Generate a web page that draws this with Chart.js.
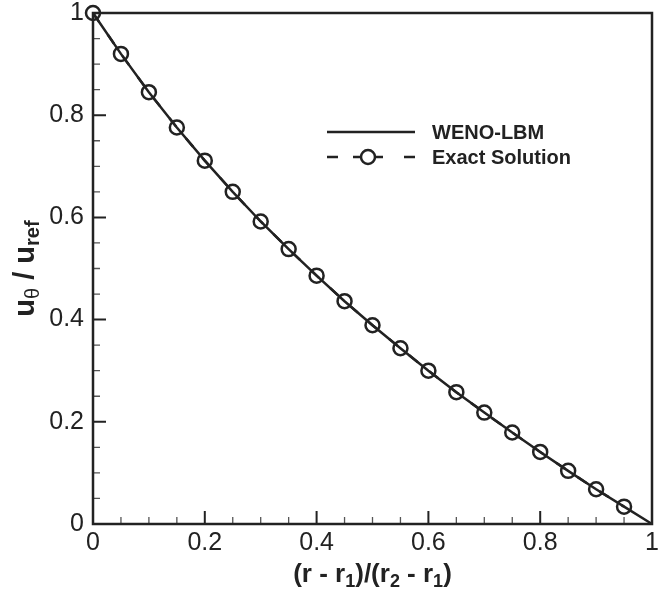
<!DOCTYPE html>
<html>
<head>
<meta charset="utf-8">
<script src="https://cdn.jsdelivr.net/npm/chart.js@4"></script>
<style>
  html, body { margin: 0; padding: 0; background: #fff; }
  #wrap { width: 665px; height: 597px; }
</style>
</head>
<body>
<div id="wrap"><canvas id="chart" width="665" height="597"></canvas></div>
<script>
// normalised radius (r - r1)/(r2 - r1)
const xValues = [0, 0.05, 0.1, 0.15, 0.2, 0.25, 0.3, 0.35, 0.4, 0.45, 0.5,
                 0.55, 0.6, 0.65, 0.7, 0.75, 0.8, 0.85, 0.9, 0.95, 1];
// WENO-LBM solid line
const wenoValues = [1.000, 0.920, 0.845, 0.776, 0.711, 0.650, 0.592, 0.538, 0.486, 0.436, 0.389,
                    0.344, 0.300, 0.258, 0.218, 0.179, 0.141, 0.104, 0.068, 0.034, 0.000];
// exact solution, circles (no marker at 1)
const exactX = [0, 0.05, 0.1, 0.15, 0.2, 0.25, 0.3, 0.35, 0.4, 0.45,
                0.5, 0.55, 0.6, 0.65, 0.7, 0.75, 0.8, 0.85, 0.9, 0.95];
const exactValues = [1.000, 0.920, 0.845, 0.776, 0.711, 0.650, 0.592, 0.538, 0.486, 0.436,
                     0.389, 0.344, 0.300, 0.258, 0.218, 0.179, 0.141, 0.104, 0.068, 0.034];
const tickLabels = ['0', '0.2', '0.4', '0.6', '0.8', '1'];
const legendLabels = ['WENO-LBM', 'Exact Solution'];

const ink = '#222';
const font = '"Liberation Sans", Arial, Helvetica, sans-serif';

// draws centred text with subscript parts
function richText(ctx, parts, x, y, size) {
    const subSize = Math.round(size * 0.68);
    let total = 0;
    parts.forEach(p => {
        ctx.font = (p.light ? '' : 'bold ') + (p.sub ? subSize : size) + 'px ' + font;
        p.w = ctx.measureText(p.t).width;
        total += p.w;
    });
    let cx = x - total / 2;
    parts.forEach(p => {
        ctx.font = (p.light ? '' : 'bold ') + (p.sub ? subSize : size) + 'px ' + font;
        ctx.fillText(p.t, cx, p.sub ? y + 5 : y);
        cx += p.w;
    });
}

function labelFor(value) {
    const i = Math.round(value * 5);
    return Math.abs(value * 5 - i) < 1e-6 ? tickLabels[i] : '';
}

const framePlugin = {
    id: 'frame',
    afterDraw(chart) {
        const ctx = chart.ctx;
        const a = chart.chartArea;
        const xs = chart.scales.x, ys = chart.scales.y;
        ctx.save();
        ctx.strokeStyle = ink;
        ctx.fillStyle = ink;

        // inward ticks, left and bottom only
        for (let i = 0; i <= 20; i++) {
            const v = i / 20;
            const major = i % 4 === 0;
            const len = major ? 13 : 7;
            ctx.lineWidth = major ? 2 : 1.3;
            ctx.strokeStyle = major ? ink : '#555';
            const py = ys.getPixelForValue(v);
            const px = xs.getPixelForValue(v);
            ctx.beginPath();
            ctx.moveTo(a.left, py); ctx.lineTo(a.left + len, py);
            ctx.moveTo(px, a.bottom); ctx.lineTo(px, a.bottom - len);
            ctx.stroke();
        }
        ctx.strokeStyle = ink;

        // frame
        ctx.lineWidth = 2.5;
        ctx.strokeRect(a.left, a.top, a.right - a.left, a.bottom - a.top);

        // axis titles
        ctx.textBaseline = 'alphabetic';
        ctx.textAlign = 'left';
        richText(ctx, [
            {t: '(r - r'}, {t: '1', sub: true}, {t: ')/(r'}, {t: '2', sub: true},
            {t: ' - r'}, {t: '1', sub: true}, {t: ')'}
        ], (a.left + a.right) / 2, 582, 26);

        ctx.save();
        ctx.translate(34, (a.top + a.bottom) / 2);
        ctx.rotate(-Math.PI / 2);
        richText(ctx, [
            {t: 'u'}, {t: 'θ', sub: true, light: true}, {t: ' / u'}, {t: 'ref', sub: true}
        ], 0, 0, 29);
        ctx.restore();

        // legend
        ctx.lineWidth = 2.5;
        ctx.beginPath();
        ctx.moveTo(327, 132); ctx.lineTo(415, 132);
        ctx.moveTo(327, 157); ctx.lineTo(338, 157);
        ctx.moveTo(353, 157); ctx.lineTo(383, 157);
        ctx.moveTo(404, 157); ctx.lineTo(415, 157);
        ctx.stroke();
        ctx.fillStyle = '#fff';
        ctx.beginPath();
        ctx.arc(368, 157, 7, 0, Math.PI * 2);
        ctx.fill();
        ctx.stroke();
        ctx.fillStyle = ink;
        ctx.font = 'bold 20px ' + font;
        ctx.fillText(legendLabels[0], 432, 139);
        ctx.fillText(legendLabels[1], 432, 164);
        ctx.restore();
    }
};

new Chart(document.getElementById('chart'), {
    type: 'scatter',
    data: {
        datasets: [
            {
                label: legendLabels[0],
                data: xValues.map((x, i) => ({x: x, y: wenoValues[i]})),
                showLine: true,
                clip: false,
                borderColor: ink,
                borderWidth: 2.5,
                pointRadius: 0,
                tension: 0
            },
            {
                label: legendLabels[1],
                data: exactX.map((x, i) => ({x: x, y: exactValues[i]})),
                showLine: true,
                clip: false,
                borderDash: [11, 15],
                borderColor: ink,
                borderWidth: 2.5,
                pointRadius: 7,
                pointBorderWidth: 2.5,
                pointBorderColor: ink,
                pointBackgroundColor: 'rgba(0,0,0,0)'
            }
        ]
    },
    options: {
        responsive: false,
        animation: false,
        devicePixelRatio: 1,
        layout: { padding: { top: 13, right: 13, left: 0, bottom: 0 } },
        plugins: {
            legend: { display: false },
            tooltip: { enabled: false }
        },
        scales: {
            x: {
                type: 'linear',
                min: 0, max: 1,
                grid: { display: false, drawTicks: false },
                border: { display: false },
                ticks: {
                    stepSize: 0.2,
                    padding: 4,
                    color: ink,
                    font: { family: font, size: 25 },
                    maxRotation: 0,
                    callback: labelFor
                },
                afterFit(scale) {
                    scale.height = 73;
                    scale.paddingLeft = 0;
                    scale.paddingRight = 0;
                }
            },
            y: {
                type: 'linear',
                min: 0, max: 1,
                grid: { display: false, drawTicks: false },
                border: { display: false },
                ticks: {
                    stepSize: 0.2,
                    padding: 9,
                    color: ink,
                    font: { family: font, size: 25 },
                    callback: labelFor
                },
                afterFit(scale) {
                    scale.width = 93;
                    scale.paddingTop = 0;
                    scale.paddingBottom = 0;
                }
            }
        }
    },
    plugins: [framePlugin]
});
</script>
</body>
</html>
